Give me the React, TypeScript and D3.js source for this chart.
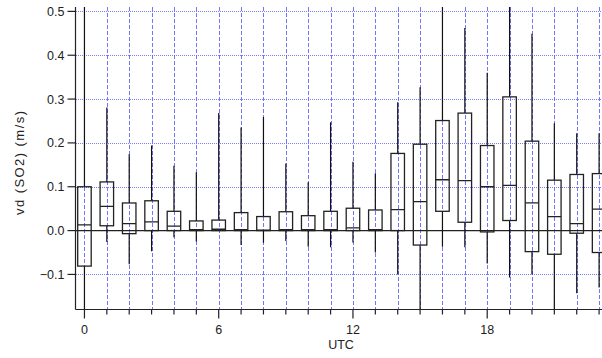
import React, { useRef, useEffect } from 'react';
import * as d3 from 'd3';

// hourly stats of vd(SO2)
const hours = [0, 1, 2, 3, 4, 5, 6, 7, 8, 9, 10, 11, 12, 13, 14, 15, 16, 17, 18, 19, 20, 21, 22, 23];
const lows = [-0.22, -0.026, -0.077, -0.047, -0.015, -0.025, 0.0, -0.033, -0.028, -0.024, -0.037, -0.038,
  -0.027, -0.05, -0.1, -0.22, -0.037, -0.038, -0.075, -0.107, -0.1, -0.22, -0.143, -0.13];
const q1s = [-0.081, 0.011, -0.007, 0.0, 0.0, 0.0, 0.0, 0.0, 0.0, 0.0, 0.0, 0.0,
  0.0, 0.0, 0.0, -0.033, 0.044, 0.019, -0.003, 0.023, -0.048, -0.054, -0.006, -0.05];
const medians = [0.013, 0.055, 0.016, 0.02, 0.01, 0.002, 0.003, 0.002, 0.001, 0.002, 0.002, 0.002,
  0.006, 0.002, 0.048, 0.066, 0.116, 0.114, 0.1, 0.103, 0.063, 0.032, 0.016, 0.049];
const q3s = [0.1, 0.111, 0.063, 0.068, 0.044, 0.022, 0.024, 0.041, 0.032, 0.043, 0.034, 0.044,
  0.051, 0.047, 0.176, 0.197, 0.251, 0.268, 0.194, 0.305, 0.204, 0.115, 0.128, 0.13];
const highs = [0.56, 0.281, 0.174, 0.194, 0.148, 0.133, 0.268, 0.235, 0.259, 0.153, 0.11, 0.247,
  0.157, 0.131, 0.293, 0.327, 0.56, 0.462, 0.36, 0.56, 0.449, 0.245, 0.222, 0.222];
const yTicks = [-0.1, 0.0, 0.1, 0.2, 0.3, 0.4, 0.5];
const xMajor = [0, 6, 12, 18];

const W = 602, H = 358;

const App = () => {
  const ref = useRef(null);

  useEffect(() => {
    document.body.style.margin = '0';
    const svg = d3.select(ref.current);
    svg.selectAll('*').remove();

    const left = 75.5, right = 602, top = 7, bottom = 309.5;
    const x = d3.scaleLinear().domain([-0.4, 23.13]).range([left, right]);
    const y = d3.scaleLinear().domain([-0.18, 0.51]).range([bottom, top]);
    const grid = '#5c5cff';
    const px = (v) => Math.round(v) + 0.5;

    svg.append('clipPath').attr('id', 'plot')
      .append('rect')
      .attr('x', left).attr('y', top)
      .attr('width', right - left).attr('height', bottom - top);

    const g = svg.append('g').attr('clip-path', 'url(#plot)');

    // grid
    g.selectAll('line.hgrid')
      .data(yTicks.filter(v => v !== 0))
      .enter().append('line')
      .attr('class', 'hgrid')
      .attr('x1', left).attr('x2', right)
      .attr('y1', d => px(y(d))).attr('y2', d => px(y(d)))
      .attr('stroke', '#7a7aff').attr('stroke-dasharray', '1,1')
      .attr('shape-rendering', 'crispEdges');

    g.selectAll('line.vgrid')
      .data(hours)
      .enter().append('line')
      .attr('class', 'vgrid')
      .attr('x1', d => px(x(d))).attr('x2', d => px(x(d)))
      .attr('y1', top).attr('y2', bottom)
      .attr('stroke', grid).attr('stroke-opacity', 0.85).attr('stroke-dasharray', '4,2')
      .attr('shape-rendering', 'crispEdges');

    // zero line
    g.append('line')
      .attr('x1', left).attr('x2', right)
      .attr('y1', y(0)).attr('y2', y(0))
      .attr('stroke', '#222').attr('stroke-width', 1.3);

    // boxes
    const bw = 13.5;
    const box = g.selectAll('g.box')
      .data(hours)
      .enter().append('g')
      .attr('class', 'box');

    box.append('line')
      .attr('x1', (d) => x(d)).attr('x2', (d) => x(d))
      .attr('y1', (d, i) => y(q3s[i])).attr('y2', (d, i) => y(highs[i]))
      .attr('stroke', '#111').attr('stroke-width', 1.2);
    box.append('line')
      .attr('x1', (d) => x(d)).attr('x2', (d) => x(d))
      .attr('y1', (d, i) => y(q1s[i])).attr('y2', (d, i) => y(lows[i]))
      .attr('stroke', '#111').attr('stroke-width', 1.2);
    box.append('rect')
      .attr('x', (d) => x(d) - bw / 2)
      .attr('width', bw)
      .attr('y', (d, i) => y(q3s[i]))
      .attr('height', (d, i) => y(q1s[i]) - y(q3s[i]))
      .attr('fill', 'none')
      .attr('stroke', '#222').attr('stroke-width', 1.3);
    box.append('line')
      .attr('x1', (d) => x(d) - bw / 2).attr('x2', (d) => x(d) + bw / 2)
      .attr('y1', (d, i) => y(medians[i])).attr('y2', (d, i) => y(medians[i]))
      .attr('stroke', '#222').attr('stroke-width', 1.3);

    // axes
    const font = 'Liberation Sans, Arial, sans-serif';
    svg.append('line')
      .attr('x1', left).attr('x2', left).attr('y1', top).attr('y2', bottom)
      .attr('stroke', '#222').attr('stroke-width', 1.2);
    svg.append('line')
      .attr('x1', left).attr('x2', right).attr('y1', bottom).attr('y2', bottom)
      .attr('stroke', '#222').attr('stroke-width', 1.2);

    svg.selectAll('line.ytick')
      .data(yTicks)
      .enter().append('line')
      .attr('x1', left - 8).attr('x2', left)
      .attr('y1', d => y(d)).attr('y2', d => y(d))
      .attr('stroke', '#222').attr('stroke-width', 1.2);
    svg.selectAll('text.ylab')
      .data(yTicks)
      .enter().append('text')
      .attr('x', left - 11).attr('y', d => y(d) + 4.5)
      .attr('text-anchor', 'end')
      .attr('font-family', font).attr('font-size', 12.5).attr('fill', '#222')
      .text(d => d3.format('.1f')(d));

    svg.selectAll('line.xtick')
      .data(hours)
      .enter().append('line')
      .attr('x1', d => x(d)).attr('x2', d => x(d))
      .attr('y1', bottom).attr('y2', d => bottom + (xMajor.includes(d) ? 9 : 5))
      .attr('stroke', '#222').attr('stroke-width', 1.2);
    svg.selectAll('text.xlab')
      .data(xMajor)
      .enter().append('text')
      .attr('x', d => x(d)).attr('y', 334)
      .attr('text-anchor', 'middle')
      .attr('font-family', font).attr('font-size', 12.5).attr('fill', '#222')
      .text(d => d);

    svg.append('text')
      .attr('x', 341).attr('y', 349)
      .attr('text-anchor', 'middle')
      .attr('font-family', font).attr('font-size', 12.5).attr('fill', '#222')
      .text('UTC');

    svg.append('text')
      .attr('transform', 'translate(24, 163) rotate(-90)')
      .attr('text-anchor', 'middle')
      .attr('font-family', font).attr('font-size', 13).attr('fill', '#222')
      .attr('textLength', 104).attr('lengthAdjust', 'spacing')
      .text('vd (SO2) (m/s)');
  }, []);

  return (
    <svg ref={ref} width={W} height={H} style={{ display: 'block', background: '#fff' }} />
  );
};

export default App;
